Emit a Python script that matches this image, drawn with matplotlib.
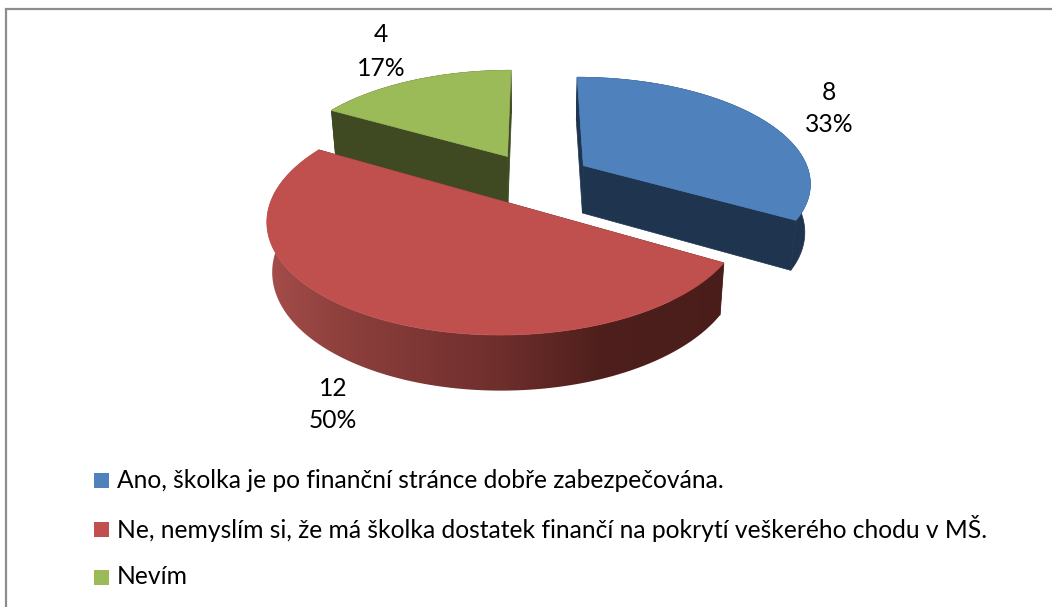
import numpy as np
import matplotlib
matplotlib.use('Agg')
import matplotlib.pyplot as plt
from matplotlib.patches import Polygon, Rectangle
from matplotlib.colors import to_rgb

plt.rcParams['font.family'] = ['Lato', 'DejaVu Sans']

# chart data
categories = ['Ano, školka je po finanční stránce dobře zabezpečována.',
              'Ne, nemyslím si, že má školka dostatek finančí na pokrytí veškerého chodu v MŠ.',
              'Nevím']
values = [8, 12, 4]
percents = [33, 50, 17]

# styles
top_colors = ['#4F81BD', '#C0504D', '#9BBB59']
wall_colors = ['#1F344F', '#4A1D1B', '#3F4A23']
explode = [0.25, 0.25, 0.25]
label_pos = [(829, 92), (333, 388), (381, 35)]
legend_y = [480, 529, 577]

# projection of the pie, in pixels
CX, CY, R, RQ, P, DEPTH, SHRINK = 535, 178.5, 227.5, 105.2, 0.15, 48, 0.98


def project(x, y, lower=False):
    s = 1 / (1 + P * y)
    if lower:
        # bottom face is further from the camera, so a bit smaller
        return CX + SHRINK * R * x * s, CY - SHRINK * RQ * y * s + DEPTH * s
    return CX + R * x * s, CY - RQ * y * s


def red_gradient(px):
    # darker to the right, like the excel 3d lighting
    stops_x = [268, 340, 500, 600, 730]
    stops = [to_rgb('#A54D4B'), to_rgb('#8E403D'), to_rgb('#6E2E2C'), to_rgb('#4E1F1C'), to_rgb('#4A1D1B')]
    return np.array([[np.interp(px, stops_x, [c[i] for c in stops]) for i in range(3)]]).transpose(0, 2, 1)


fig = plt.figure(figsize=(10.52, 6.07), dpi=100)
ax = fig.add_axes([0, 0, 1, 1])

# chart frame, runs off the right and bottom of the picture
ax.plot([6, 6, 1060], [620, 8.5, 8.5], color='#8C8C8C', lw=1.6, solid_joinstyle='miter')

total = sum(values)
start = 0.0
wedges = []
for i, v in enumerate(values):
    a0, a1 = start, start + 360.0 * v / total
    start = a1
    wedges.append((i, a0, a1))

# back to front: green, blue, red
for i, a0, a1 in [wedges[2], wedges[0], wedges[1]]:
    mid = np.radians((a0 + a1) / 2)
    ox, oy = explode[i] * np.sin(mid), explode[i] * np.cos(mid)
    t = np.radians(np.linspace(a0, a1, 181))
    xs, ys = ox + np.sin(t), oy + np.cos(t)

    # cut faces
    for j in (0, -1):
        pts = [project(ox, oy), project(xs[j], ys[j]),
               project(xs[j], ys[j], True), project(ox, oy, True)]
        ax.add_patch(Polygon(pts, closed=True, fc=wall_colors[i], ec=wall_colors[i], lw=0.5))

    # outer rim
    upper = [project(a, b) for a, b in zip(xs, ys)]
    lower = [project(a, b, True) for a, b in zip(xs, ys)]
    rim = Polygon(upper + lower[::-1], closed=True, fc=wall_colors[i], ec=wall_colors[i], lw=0.5)
    ax.add_patch(rim)
    if i == 1:
        rim.set_visible(False)
        px = np.arange(250, 740)
        im = ax.imshow(red_gradient(px), extent=(250, 740, 400, 100), aspect='auto', zorder=1)
        im.set_clip_path(rim.get_path(), rim.get_transform())

    # top face
    outline = [project(ox, oy)] + upper
    ax.add_patch(Polygon(outline, closed=True, fc=top_colors[i], ec=top_colors[i], lw=0.5, zorder=2))

ax.set_xlim(0, 1052)
ax.set_ylim(607, 0)
ax.set_aspect('auto')
ax.axis('off')

# data labels
for i, (lx, ly) in enumerate(label_pos):
    ax.text(lx, ly, str(values[i]), ha='center', va='center', fontsize=17.7, color='black')
    ax.text(lx, ly + 33, f'{percents[i]}%', ha='center', va='center', fontsize=17.7, color='black')

# legend
for i, name in enumerate(categories):
    ax.add_patch(Rectangle((94, legend_y[i] - 7.5), 15, 15, fc=top_colors[i], ec='none'))
    ax.text(117, legend_y[i], name, ha='left', va='center', fontsize=17.7, color='black')

fig.savefig('out.png', dpi=100)
